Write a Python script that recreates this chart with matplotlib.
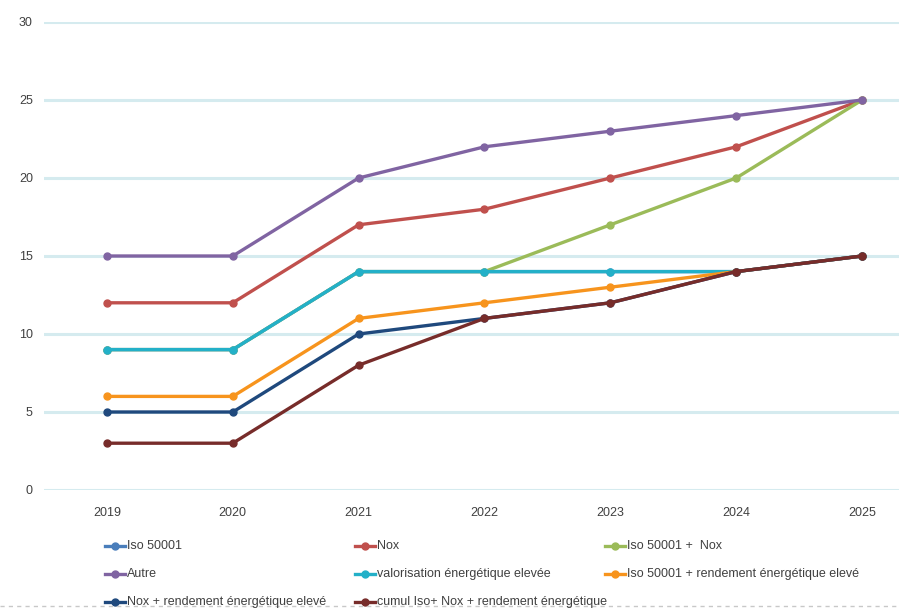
import matplotlib
matplotlib.use("Agg")
import matplotlib.pyplot as plt
from matplotlib.lines import Line2D

years = ["2019", "2020", "2021", "2022", "2023", "2024", "2025"]
iso = [9, 9, 14, 14, 14, 14, 15]
nox = [12, 12, 17, 18, 20, 22, 25]
iso_nox = [9, 9, 14, 14, 17, 20, 25]
autre = [15, 15, 20, 22, 23, 24, 25]
valorisation = [9, 9, 14, 14, 14, 14, 15]
iso_rend = [6, 6, 11, 12, 13, 14, 15]
nox_rend = [5, 5, 10, 11, 12, 14, 15]
cumul = [3, 3, 8, 11, 12, 14, 15]

names = ["Iso 50001", "Nox", "Iso 50001 +  Nox", "Autre",
         "valorisation énergétique elevée", "Iso 50001 + rendement énergétique elevé",
         "Nox + rendement énergétique elevé", "cumul Iso+ Nox + rendement énergétique"]
series = [iso, nox, iso_nox, autre, valorisation, iso_rend, nox_rend, cumul]
colors = ["#4A7EBB", "#C0504D", "#9BBB59", "#8064A2", "#23B0C8", "#F7941D", "#1F497D", "#772C2A"]

plt.rcParams['font.family'] = ['Liberation Sans Narrow', 'Liberation Sans', 'DejaVu Sans']

fig = plt.figure(figsize=(8.99, 6.10), dpi=100)
ax = fig.add_axes([44/899, 1 - 490/610, (925 - 44)/899, (490 - 22)/610])

x = list(range(len(years)))
for s, c, n in zip(series, colors, names):
    ax.plot(x, s, color=c, lw=2.4, marker='o', ms=5, label=n, solid_capstyle='round')

ax.set_xlim(-0.5, 6.5)
ax.set_ylim(0, 30)
ax.set_yticks(range(0, 31, 5))
ax.set_xticks(x)
ax.set_xticklabels(years)
ax.yaxis.grid(True, color="#D5EBEF", lw=2.2)
ax.set_axisbelow(True)
for sp in ax.spines.values():
    sp.set_visible(False)
ax.tick_params(length=0, labelsize=9, colors="#404040")
ax.tick_params(axis='y', pad=8)
ax.tick_params(axis='x', pad=12)

col_x = [105, 355, 605]
row_y = [546, 574, 602]
for i, (n, c) in enumerate(zip(names, colors)):
    r, k = divmod(i, 3)
    xx = col_x[k] / 899
    yy = 1 - row_y[r] / 610
    fig.add_artist(Line2D([xx, xx + 20/899], [yy, yy], color=c, lw=2.4,
                          transform=fig.transFigure))
    fig.add_artist(Line2D([xx + 10/899], [yy], color=c, marker='o', ms=5,
                          transform=fig.transFigure))
    fig.text(xx + 22/899, yy, n, fontsize=9, color="#404040", va='center', ha='left')

fig.add_artist(Line2D([0, 1], [1 - 606/610, 1 - 606/610], color="#C8C8C8", lw=1,
                      ls=(0, (3, 3)), transform=fig.transFigure))

fig.savefig("out.png", dpi=100)
